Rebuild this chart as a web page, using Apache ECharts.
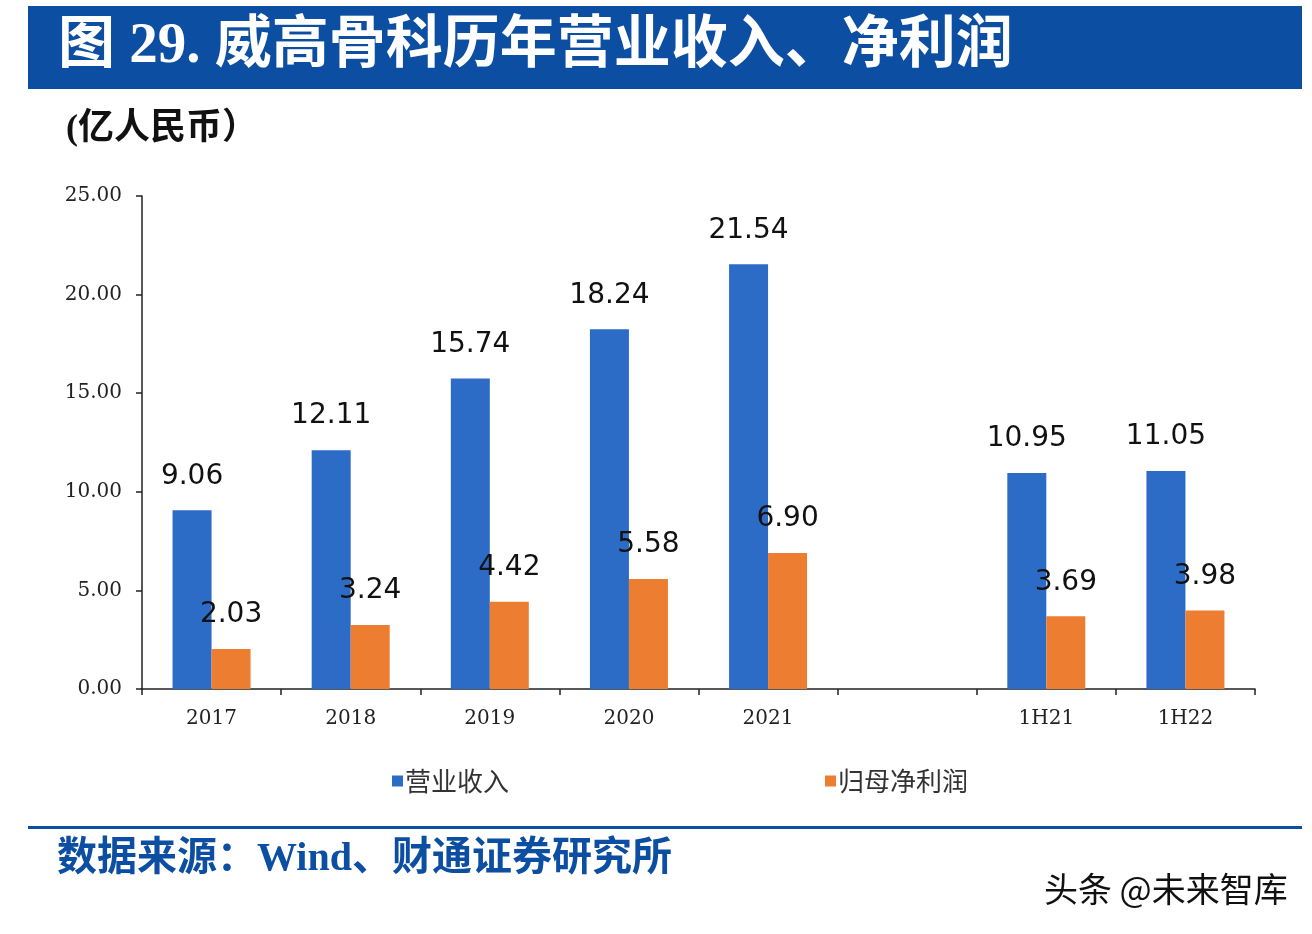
<!DOCTYPE html>
<html>
<head>
<meta charset="utf-8">
<script src="https://cdn.jsdelivr.net/npm/echarts@6/dist/echarts.min.js"></script>
<style>
html,body{margin:0;padding:0;background:#fff;}
#chart{width:1312px;height:934px;}
</style>
</head>
<body>
<div id="chart"></div>
<script>
const categories = ['2017', '2018', '2019', '2020', '2021', '', '1H21', '1H22'];
const revenue = [9.06, 12.11, 15.74, 18.24, 21.54, null, 10.95, 11.05];
const netProfit = [2.03, 3.24, 4.42, 5.58, 6.90, null, 3.69, 3.98];
const seriesNames = ['营业收入', '归母净利润'];
const yTicks = { min: 0, max: 25, interval: 5 };
const titleText = '图 29. 威高骨科历年营业收入、净利润';
const unitText = '(亿人民币）';
const sourceText = '数据来源：Wind、财通证券研究所';
const watermarkText = '头条 @未来智库';

const chart = echarts.init(document.getElementById('chart'), null, { renderer: 'canvas' });

const labelStyle = {
  show: true,
  position: 'top',
  distance: 20,
  fontFamily: 'DejaVu Sans',
  fontSize: 28,
  color: '#111',
  formatter: p => p.value == null ? '' : Number(p.value).toFixed(2)
};

chart.setOption({
  backgroundColor: '#fff',
  animation: false,
  graphic: [
    { type: 'rect', shape: { x: 28, y: 6, width: 1274, height: 83 }, style: { fill: '#0b4ea2' } },
    { type: 'text', left: 58, top: 19, style: { text: titleText, fill: '#fff', fontSize: 57, fontWeight: 'bold', fontFamily: '"Liberation Serif","Noto Sans CJK SC"' } },
    { type: 'text', left: 66, top: 112, style: { text: unitText, fill: '#111', fontSize: 36, fontWeight: 'bold', fontFamily: '"Liberation Serif","Noto Sans CJK SC"' } },
    { type: 'rect', shape: { x: 28, y: 826, width: 1274, height: 3 }, style: { fill: '#0b4ea2' } },
    { type: 'text', left: 57, top: 840, style: { text: sourceText, fill: '#0b4ea2', fontSize: 40, fontWeight: 'bold', fontFamily: '"Liberation Serif","Noto Sans CJK SC"' } },
    { type: 'text', left: 1044, top: 872, style: { text: watermarkText, fill: '#111', fontSize: 34, fontFamily: '"Noto Sans CJK SC"' } }
  ],
  legend: {
    data: seriesNames,
    left: 387,
    top: 763,
    itemWidth: 11,
    itemHeight: 11,
    itemGap: 316,
    icon: 'rect',
    textStyle: { fontSize: 26, color: '#333', fontFamily: '"Noto Sans CJK SC"', padding: [0, 0, 0, -3] }
  },
  grid: { left: 142, right: 57, top: 196, bottom: 245, containLabel: false },
  xAxis: {
    type: 'category',
    data: categories,
    axisLine: { lineStyle: { color: '#222', width: 1.5 } },
    axisTick: { show: true, alignWithLabel: false, length: 6, lineStyle: { color: '#222', width: 1.5 } },
    axisLabel: { fontFamily: 'DejaVu Serif', fontSize: 20, color: '#222', margin: 20 }
  },
  yAxis: {
    type: 'value',
    min: yTicks.min,
    max: yTicks.max,
    interval: yTicks.interval,
    axisLine: { show: true, lineStyle: { color: '#222', width: 1.5 } },
    axisTick: { show: true, inside: false, length: 6, lineStyle: { color: '#222', width: 1.5 } },
    splitLine: { show: false },
    axisLabel: { fontFamily: 'DejaVu Serif', fontSize: 20, color: '#222', margin: 20, formatter: v => v.toFixed(2) }
  },
  series: [
    { name: seriesNames[0], type: 'bar', data: revenue, barWidth: 39, barGap: '0%', itemStyle: { color: '#2c6cc6' }, label: labelStyle },
    { name: seriesNames[1], type: 'bar', data: netProfit, barWidth: 39, barGap: '0%', itemStyle: { color: '#ed7d31' }, label: labelStyle }
  ]
});
</script>
</body>
</html>
